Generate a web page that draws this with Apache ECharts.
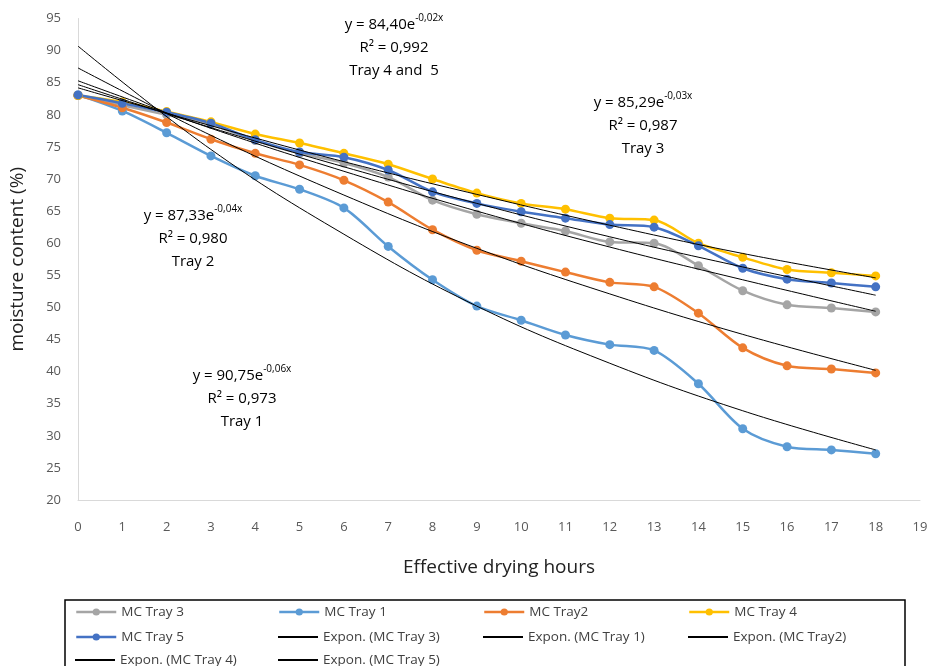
<!DOCTYPE html>
<html>
<head>
<meta charset="utf-8">
<script src="https://cdn.jsdelivr.net/npm/echarts@6/dist/echarts.min.js"></script>
<style>
  html, body { margin: 0; padding: 0; background: #fff; }
  #chart { width: 928px; height: 666px; }
</style>
</head>
<body>
<div id="chart"></div>
<script>
// drying hours
const hours = [0, 1, 2, 3, 4, 5, 6, 7, 8, 9, 10, 11, 12, 13, 14, 15, 16, 17, 18]
// moisture content (%)
const tray3 = [83.0, 81.5, 80.0, 78.5, 76.0, 74.0, 72.5, 70.3, 66.7, 64.5, 63.1, 61.9, 60.2, 60.0, 56.5, 52.6, 50.4, 49.9, 49.3]
const tray1 = [83.1, 80.6, 77.2, 73.6, 70.5, 68.4, 65.5, 59.5, 54.3, 50.2, 48.0, 45.7, 44.2, 43.3, 38.1, 31.1, 28.3, 27.8, 27.2]
const tray2 = [83.0, 81.1, 78.8, 76.2, 74.0, 72.2, 69.8, 66.4, 62.1, 58.9, 57.2, 55.5, 53.9, 53.2, 49.1, 43.7, 40.9, 40.4, 39.8]
const tray4 = [83.0, 82.0, 80.5, 78.9, 77.0, 75.6, 74.0, 72.3, 70.0, 67.8, 66.2, 65.3, 63.9, 63.6, 60.0, 57.8, 55.9, 55.4, 54.9]
const tray5 = [83.1, 81.8, 80.4, 78.7, 76.1, 74.2, 73.4, 71.4, 68.0, 66.2, 64.9, 63.9, 62.9, 62.5, 59.6, 56.1, 54.4, 53.8, 53.2]

// exponential trend lines, every 3 hours
const trendHours = [0, 3, 6, 9, 12, 15, 18]
const expTray3 = [85.3, 77.9, 71.2, 65.0, 59.4, 54.3, 49.4]
const expTray1 = [90.7, 74.6, 61.4, 50.2, 41.3, 33.9, 27.8]
const expTray2 = [87.3, 76.8, 67.5, 59.2, 52.1, 45.8, 40.2]
const expTray4 = [84.2, 78.3, 72.7, 67.6, 62.8, 58.4, 54.6]
const expTray5 = [84.7, 78.0, 71.9, 66.2, 61.0, 56.3, 51.9]

const yTicks = { min: 20, max: 95, step: 5 }
const xTicks = { min: 0, max: 19, step: 1 }

const legendNames = [
  ['MC Tray 3', 'MC Tray 1', 'MC Tray2', 'MC Tray 4'],
  ['MC Tray 5', 'Expon. (MC Tray 3)', 'Expon. (MC Tray 1)', 'Expon. (MC Tray2)'],
  ['Expon. (MC Tray 4)', 'Expon. (MC Tray 5)']
]

const pair = (xs, ys) => xs.map((x, i) => [x, ys[i]])

const chart = echarts.init(document.getElementById('chart'))

const dataLine = (name, values, color) => ({
  name: name,
  type: 'line',
  data: pair(hours, values),
  smooth: 0.3,
  symbol: 'circle',
  symbolSize: 9,
  lineStyle: { width: 2.5, color: color },
  itemStyle: { color: color },
  z: 2
})

const trendLine = (name, values) => ({
  name: name,
  type: 'line',
  data: pair(trendHours, values),
  smooth: 0.4,
  symbol: 'none',
  lineStyle: { width: 1, color: '#000' },
  itemStyle: { color: '#000' },
  z: 3
})

// one legend per cell so the columns line up like the excel box
const colX = [75, 278, 483, 688]
const rowY = [612, 637, 660]
const legends = []
legendNames.forEach((row, r) => {
  row.forEach((name, c) => {
    const trend = name.indexOf('Expon') === 0
    legends.push({
      left: colX[c],
      top: rowY[r] - 9,
      padding: 0,
      itemWidth: 40,
      itemHeight: trend ? 2 : 9,
      itemGap: 0,
      lineStyle: { width: 2.5 },
      textStyle: { fontSize: 13.5, color: '#404040', fontFamily: 'Open Sans', lineHeight: 18 },
      data: [trend ? { name: name, icon: 'rect', itemStyle: { color: '#000' } } : name]
    })
  })
})

// equation labels, cy = centre of first line
const eq = (cx, cy, a, b, r2, tray) => ({
  type: 'text',
  x: cx,
  y: cy - 11.5,
  silent: true,
  style: {
    align: 'center',
    verticalAlign: 'top',
    text: '{m|y = ' + a + 'e}{s|' + b + '}\n{m|R² = ' + r2 + '}\n{m|' + tray + '}',
    rich: {
      m: { fontSize: 15, lineHeight: 23, fill: '#000', fontFamily: 'Open Sans' },
      s: { fontSize: 10, lineHeight: 23, verticalAlign: 'top', fill: '#000', fontFamily: 'Open Sans', padding: [0, 0, 8, 0] }
    }
  }
})

const option = {
  backgroundColor: '#fff',
  animation: false,
  grid: { left: 78, right: 8, top: 18.5, bottom: 166, outerBoundsMode: 'none' },
  xAxis: {
    type: 'value',
    min: xTicks.min,
    max: xTicks.max,
    interval: xTicks.step,
    name: 'Effective drying hours',
    nameLocation: 'middle',
    nameGap: 58,
    nameTextStyle: { fontSize: 19, color: '#222', fontFamily: 'Open Sans' },
    axisLine: { lineStyle: { color: '#D9D9D9', width: 1 } },
    axisTick: { show: false },
    splitLine: { show: false },
    axisLabel: { color: '#595959', fontSize: 13, margin: 21, fontFamily: 'Open Sans' }
  },
  yAxis: {
    type: 'value',
    min: yTicks.min,
    max: yTicks.max,
    interval: yTicks.step,
    name: 'moisture content (%)',
    nameLocation: 'middle',
    nameGap: 51,
    nameTextStyle: { fontSize: 19, color: '#222', fontFamily: 'Open Sans' },
    axisLine: { show: true, lineStyle: { color: '#D9D9D9', width: 1 } },
    axisTick: { show: false },
    splitLine: { show: false },
    axisLabel: { color: '#595959', fontSize: 13, margin: 17, fontFamily: 'Open Sans' }
  },
  legend: legends,
  graphic: [
    {
      type: 'rect',
      shape: { x: 65, y: 600, width: 840, height: 90 },
      style: { fill: 'none', stroke: '#000', lineWidth: 1.5 },
      silent: true
    },
    eq(394, 25, '84,40', '-0,02x', '0,992', 'Tray 4 and  5'),
    eq(643, 103, '85,29', '-0,03x', '0,987', 'Tray 3'),
    eq(193, 216, '87,33', '-0,04x', '0,980', 'Tray 2'),
    eq(242, 376, '90,75', '-0,06x', '0,973', 'Tray 1')
  ],
  series: [
    dataLine('MC Tray 3', tray3, '#A5A5A5'),
    dataLine('MC Tray 1', tray1, '#5B9BD5'),
    dataLine('MC Tray2', tray2, '#ED7D31'),
    dataLine('MC Tray 4', tray4, '#FFC000'),
    dataLine('MC Tray 5', tray5, '#4472C4'),
    trendLine('Expon. (MC Tray 3)', expTray3),
    trendLine('Expon. (MC Tray 1)', expTray1),
    trendLine('Expon. (MC Tray2)', expTray2),
    trendLine('Expon. (MC Tray 4)', expTray4),
    trendLine('Expon. (MC Tray 5)', expTray5)
  ]
}

chart.setOption(option)
</script>
</body>
</html>
